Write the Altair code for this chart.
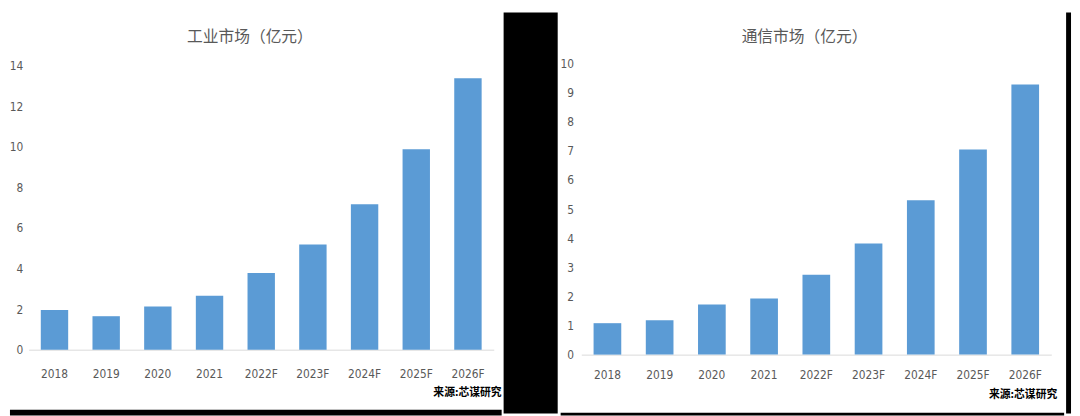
import altair as alt
import pandas as pd

categories = ["2018", "2019", "2020", "2021", "2022F", "2023F", "2024F", "2025F", "2026F"]
industrial = [1.95, 1.65, 2.13, 2.66, 3.78, 5.18, 7.17, 9.88, 13.37]
communication = [1.08, 1.18, 1.72, 1.93, 2.74, 3.82, 5.30, 7.05, 9.28]
title_left = "工业市场（亿元）"
title_right = "通信市场（亿元）"
source_text = "来源:芯谋研究"

BAR = "#5B9BD5"
GREY = "#595959"
TICK_FONT = "Liberation Sans Narrow, DejaVu Sans Condensed, Arial Narrow, sans-serif"
CJK = "Noto Sans CJK SC"


def panel(values, title, w, h, xrange, y0, ytop, ymax, ystep, ylabpad, xlabpad, tx, sx, sy):
    df = pd.DataFrame({"cat": categories, "v": values})
    bars = alt.Chart(df).mark_bar(color=BAR).encode(
        x=alt.X("cat:N", sort=categories, title=None,
                scale=alt.Scale(range=xrange, paddingInner=0.47, paddingOuter=0.235),
                axis=alt.Axis(orient="bottom", offset=-(h - y0), labelAngle=0,
                              ticks=False, domainColor="#d9d9d9", labelPadding=xlabpad,
                              labelFont=TICK_FONT, labelFontSize=12, labelColor=GREY)),
        y=alt.Y("v:Q", title=None,
                scale=alt.Scale(domain=[0, ymax], range=[y0, ytop], nice=False, zero=True),
                axis=alt.Axis(orient="left", offset=-xrange[0], domain=False, ticks=False,
                              grid=False, values=list(range(0, ymax + 1, ystep)),
                              labelPadding=ylabpad, labelFont=TICK_FONT, labelFontSize=12,
                              labelColor=GREY)),
    )
    ttl = alt.Chart(pd.DataFrame({"t": [title]})).mark_text(
        font=CJK, fontSize=16, color=GREY, align="center", baseline="middle"
    ).encode(text="t:N", x=alt.value(tx), y=alt.value(25))
    src = alt.Chart(pd.DataFrame({"t": [source_text]})).mark_text(
        font=CJK, fontSize=11, fontWeight="bold", color="black", align="right", baseline="middle"
    ).encode(text="t:N", x=alt.value(sx), y=alt.value(sy))
    return alt.layer(bars, ttl, src).properties(width=w, height=h)


def black_block(w, h):
    return alt.Chart(pd.DataFrame({"a": [0]})).mark_rect(color="black").encode(
        x=alt.value(0), x2=alt.value(w), y=alt.value(0), y2=alt.value(h)
    ).properties(width=w, height=h)


left = panel(industrial, title_left, 500, 402, [19, 492], 343, 54, 14, 2, 6, 19, 244, 500, 387)
right = panel(communication, title_right, 512, 405, [21, 499], 348, 52, 10, 1, 8, 15, 248, 505, 389)

col_left = alt.vconcat(left, black_block(500, 6), spacing=0)
col_right = alt.vconcat(right, black_block(512, 3), spacing=0)

chart = alt.hconcat(
    col_left, black_block(55, 408), col_right, black_block(5, 408), spacing=0
).properties(
    background="white",
    padding={"left": 0, "top": 0, "right": 0, "bottom": 0},
).configure_view(fill="white", stroke="transparent")

chart.save("out.html", embed_options={"renderer": "svg", "actions": False})
